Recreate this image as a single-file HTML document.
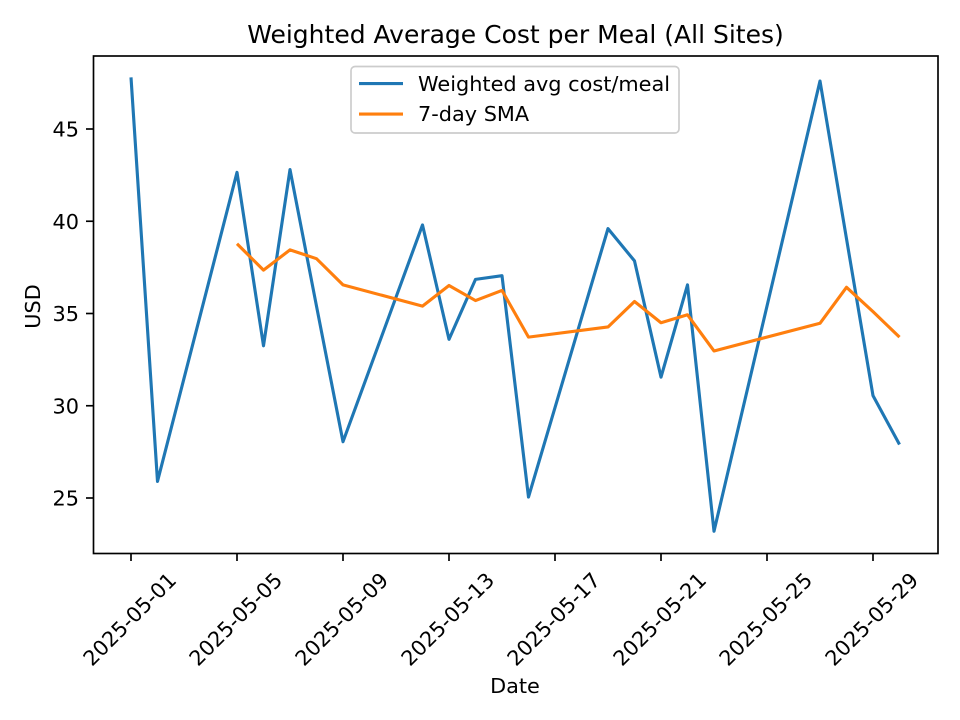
<!DOCTYPE html>
<html lang="en">
<head>
<meta charset="utf-8">
<title>Weighted Average Cost per Meal (All Sites)</title>
<style>
html,body{margin:0;padding:0;background:#fff;}
svg{display:block;}
text{font-family:"DejaVu Sans",sans-serif;fill:#000;}
</style>
</head>
<body>
<svg id="chart" xmlns="http://www.w3.org/2000/svg" width="960" height="720" viewBox="0 0 960 720">
<rect x="0" y="0" width="960" height="720" fill="#fff"/>
<rect x="93.5" y="56" width="844.5" height="497.5" fill="#fff"/>
<g id="grid-ticks"></g>
<g id="series"></g>
<rect x="93.5" y="56" width="844.5" height="497.5" fill="none" stroke="#000" stroke-width="1.67"/>
<text x="515.5" y="43" font-size="25" text-anchor="middle">Weighted Average Cost per Meal (All Sites)</text>
<text x="515" y="693" font-size="20.83" text-anchor="middle">Date</text>
<text transform="translate(40,306.5) rotate(-90)" font-size="20.83" text-anchor="middle">USD</text>
<g>
<rect x="351" y="66.5" width="328" height="66.5" rx="4" ry="4" fill="#fff" fill-opacity="0.8" stroke="#ccc" stroke-width="1.67"/>
<line x1="359" y1="83.5" x2="403" y2="83.5" stroke="#1f77b4" stroke-width="3.125"/>
<text x="418" y="91" font-size="20.83">Weighted avg cost/meal</text>
<line x1="359" y1="114" x2="403" y2="114" stroke="#ff7f0e" stroke-width="3.125"/>
<text x="418" y="121" font-size="20.83">7-day SMA</text>
</g>
</svg>
<script>
const dates = ["2025-05-01","2025-05-02","2025-05-05","2025-05-06","2025-05-07","2025-05-08","2025-05-09","2025-05-12","2025-05-13","2025-05-14","2025-05-15","2025-05-16","2025-05-19","2025-05-20","2025-05-21","2025-05-22","2025-05-23","2025-05-27","2025-05-28","2025-05-29","2025-05-30"];
const costValues = [47.8,25.9,42.65,33.25,42.8,35.4,28.05,39.8,33.6,36.85,37.05,25.05,39.6,37.85,31.55,36.55,23.2,47.6,39.05,30.55,27.9];
const smaValues = [null,null,38.78,37.35,38.45,37.97,36.55,35.4,36.52,35.7,36.25,33.72,34.27,35.65,34.5,34.93,32.97,34.47,36.42,35.1,33.72];
const xTickLabels = ["2025-05-01","2025-05-05","2025-05-09","2025-05-13","2025-05-17","2025-05-21","2025-05-25","2025-05-29"];
const yTickValues = [25,30,35,40,45];

const NS = "http://www.w3.org/2000/svg";
const DAY_MS = 86400000;
const originDay = Date.parse("2025-05-01");
function xScale(dateStr) {
  return 131 + ((Date.parse(dateStr) - originDay) / DAY_MS) * 26.5;
}
function yScale(value) {
  return 498 + (value - 25) * -18.45;
}
const tickGroup = document.getElementById("grid-ticks");
xTickLabels.forEach(function (label) {
  const x = xScale(label);
  const tick = document.createElementNS(NS, "line");
  tick.setAttribute("x1", x);
  tick.setAttribute("x2", x);
  tick.setAttribute("y1", 553.5);
  tick.setAttribute("y2", 561);
  tick.setAttribute("stroke", "#000");
  tick.setAttribute("stroke-width", 1.67);
  
  
  tickGroup.appendChild(tick);
  const text = document.createElementNS(NS, "text");
  text.setAttribute("transform", "translate(" + (x - 1.5) + ",619) rotate(-45)");
  text.setAttribute("font-size", 20.83);
  text.setAttribute("text-anchor", "middle");
  text.setAttribute("y", 7.5);
  text.textContent = label;
  
  
  tickGroup.appendChild(text);
});
yTickValues.forEach(function (value) {
  const y = yScale(value);
  const tick = document.createElementNS(NS, "line");
  tick.setAttribute("x1", 86);
  tick.setAttribute("x2", 93.5);
  tick.setAttribute("y1", y);
  tick.setAttribute("y2", y);
  tick.setAttribute("stroke", "#000");
  tick.setAttribute("stroke-width", 1.67);
  
  
  tickGroup.appendChild(tick);
  const text = document.createElementNS(NS, "text");
  text.setAttribute("x", 79);
  text.setAttribute("y", y + 7.5);
  text.setAttribute("font-size", 20.83);
  text.setAttribute("text-anchor", "end");
  text.textContent = String(value);
  
  
  tickGroup.appendChild(text);
});
function buildPoints(values) {
  const pts = [];
  values.forEach(function (v, i) {
    if (v !== null) {
      pts.push(xScale(dates[i]).toFixed(2) + "," + yScale(v).toFixed(2));
    }
  });
  return pts.join(" ");
}
const seriesGroup = document.getElementById("series");
const costLine = document.createElementNS(NS, "polyline");
costLine.setAttribute("points", buildPoints(costValues));
costLine.setAttribute("fill", "none");
costLine.setAttribute("stroke", "#1f77b4");
costLine.setAttribute("stroke-width", 3.125);
costLine.setAttribute("stroke-linejoin", "round");


seriesGroup.appendChild(costLine);
const smaLine = document.createElementNS(NS, "polyline");
smaLine.setAttribute("points", buildPoints(smaValues));
smaLine.setAttribute("fill", "none");
smaLine.setAttribute("stroke", "#ff7f0e");
smaLine.setAttribute("stroke-width", 3.125);
smaLine.setAttribute("stroke-linejoin", "round");


seriesGroup.appendChild(smaLine);
</script>
</body>
</html>
